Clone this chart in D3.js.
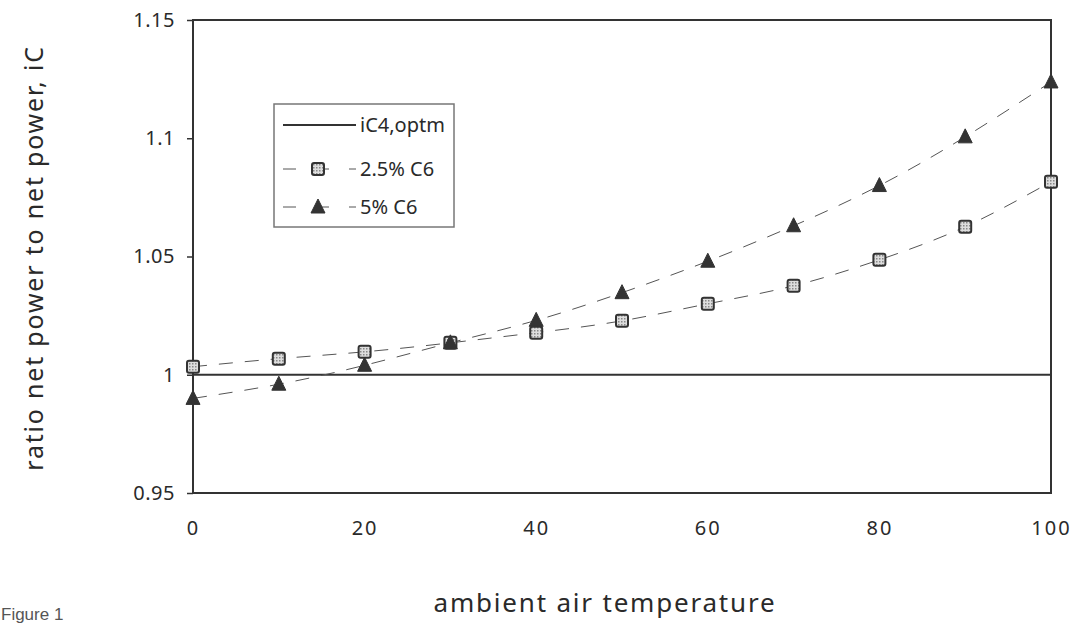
<!DOCTYPE html>
<html>
<head>
<meta charset="utf-8">
<script src="https://cdn.jsdelivr.net/npm/d3@7"></script>
<style>
  body { margin: 0; background: #fff; }
  svg text { fill: #2a2a2a; font-family: "Comic Sans MS", "Noto Sans", sans-serif; }
</style>
</head>
<body>
<div id="chart"></div>
<script>
// chart data
const temps = [0, 10, 20, 30, 40, 50, 60, 70, 80, 90, 100];
const c6_25 = [1.0034, 1.0068, 1.0097, 1.0135, 1.0178, 1.0228, 1.0300, 1.0376, 1.0486, 1.0626, 1.0816];
const c6_5 = [0.990, 0.996, 1.004, 1.0135, 1.023, 1.0347, 1.048, 1.063, 1.080, 1.1006, 1.1238];
const baseline = 1.0;
const xTicks = [0, 20, 40, 60, 80, 100];
const yTicks = [0.95, 1, 1.05, 1.1, 1.15];

const W = 1081, H = 629;
const margin = { top: 20, right: 30, bottom: 136, left: 193 };

const svg = d3.select('#chart').append('svg')
    .attr('width', W)
    .attr('height', H);

const x = d3.scaleLinear().domain([0, 100]).range([margin.left, W - margin.right]);
const y = d3.scaleLinear().domain([0.95, 1.15]).range([H - margin.bottom, margin.top]);

const ink = '#333';

// frame
svg.append('rect')
    .attr('x', x(0)).attr('y', y(1.15))
    .attr('width', x(100) - x(0)).attr('height', y(0.95) - y(1.15))
    .attr('fill', 'none').attr('stroke', ink).attr('stroke-width', 2);

// axes
const yAxis = svg.append('g')
    .attr('transform', `translate(${x(0)},0)`)
    .call(d3.axisLeft(y).tickValues(yTicks).tickSize(6).tickPadding(12)
        .tickFormat(d => d === 1 ? '1' : String(d)));
yAxis.select('.domain').remove();
yAxis.selectAll('line').attr('stroke', ink).attr('stroke-width', 1.5);
yAxis.selectAll('text').style('font-size', '20px').style('letter-spacing', '0.5px');

const xAxis = svg.append('g')
    .attr('transform', `translate(0,${y(0.95)})`)
    .call(d3.axisBottom(x).tickValues(xTicks).tickSize(0).tickPadding(28));
xAxis.select('.domain').remove();
xAxis.selectAll('text').style('font-size', '20px').style('letter-spacing', '2px');

// baseline iC4,optm
svg.append('line')
    .attr('x1', x(0)).attr('x2', x(100))
    .attr('y1', y(baseline)).attr('y2', y(baseline))
    .attr('stroke', ink).attr('stroke-width', 2);

// dashed trend lines
const line = d3.line().curve(d3.curveNatural);
[c6_25, c6_5].forEach(vals => {
    svg.append('path')
        .attr('d', line(temps.map((t, i) => [x(t), y(vals[i])])))
        .attr('fill', 'none')
        .attr('stroke', '#555')
        .attr('stroke-width', 1)
        .attr('stroke-dasharray', '14,12');
});

// pattern for square markers
const defs = svg.append('defs');
const pat = defs.append('pattern')
    .attr('id', 'dots').attr('width', 3).attr('height', 3)
    .attr('patternUnits', 'userSpaceOnUse');
pat.append('rect').attr('width', 3).attr('height', 3).attr('fill', '#ddd');
pat.append('rect').attr('width', 1.5).attr('height', 1.5).attr('fill', '#888');

function square(g, cx, cy) {
    g.append('rect')
        .attr('x', cx - 6).attr('y', cy - 6)
        .attr('width', 12).attr('height', 12).attr('rx', 2)
        .attr('fill', 'url(#dots)').attr('stroke', '#333').attr('stroke-width', 2);
}
function triangle(g, cx, cy) {
    g.append('path')
        .attr('d', `M${cx},${cy - 8}L${cx + 7},${cy + 6}L${cx - 7},${cy + 6}Z`)
        .attr('fill', '#333').attr('stroke', '#333').attr('stroke-width', 1);
}

const marks = svg.append('g');
temps.forEach((t, i) => square(marks, x(t), y(c6_25[i])));
temps.forEach((t, i) => triangle(marks, x(t), y(c6_5[i])));

// legend
const lg = svg.append('g').attr('transform', 'translate(274,104)');
lg.append('rect').attr('width', 180).attr('height', 123)
    .attr('fill', '#fff').attr('stroke', '#777').attr('stroke-width', 1.5);
const rows = [
    { label: 'iC4,optm', y: 21, type: 'solid' },
    { label: '2.5% C6', y: 65, type: 'square' },
    { label: '5% C6', y: 103, type: 'tri' }
];
rows.forEach(r => {
    if (r.type === 'solid') {
        lg.append('line').attr('x1', 9).attr('x2', 82).attr('y1', r.y).attr('y2', r.y)
            .attr('stroke', ink).attr('stroke-width', 2);
    } else {
        lg.append('line').attr('x1', 9).attr('x2', 82).attr('y1', r.y).attr('y2', r.y)
            .attr('stroke', '#555').attr('stroke-width', 1).attr('stroke-dasharray', '13,20');
        if (r.type === 'square') square(lg, 44, r.y); else triangle(lg, 44, r.y);
    }
    lg.append('text').attr('x', 86).attr('y', r.y).attr('dy', '0.35em')
        .style('font-size', '20px').text(r.label);
});

// axis titles
svg.append('text')
    .attr('x', 605).attr('y', 612)
    .attr('text-anchor', 'middle')
    .style('font-size', '26px')
    .style('letter-spacing', '1.8px')
    .text('ambient air temperature');

svg.append('text')
    .attr('transform', 'translate(43,258) rotate(-90)')
    .attr('text-anchor', 'middle')
    .style('font-size', '25px')
    .style('letter-spacing', '1.8px')
    .text('ratio net power to net power, iC');

svg.append('text')
    .attr('x', 1).attr('y', 620)
    .style('font-family', 'Arial, "Liberation Sans", sans-serif')
    .style('font-size', '17px')
    .style('fill', '#555')
    .text('Figure 1');
</script>
</body>
</html>
